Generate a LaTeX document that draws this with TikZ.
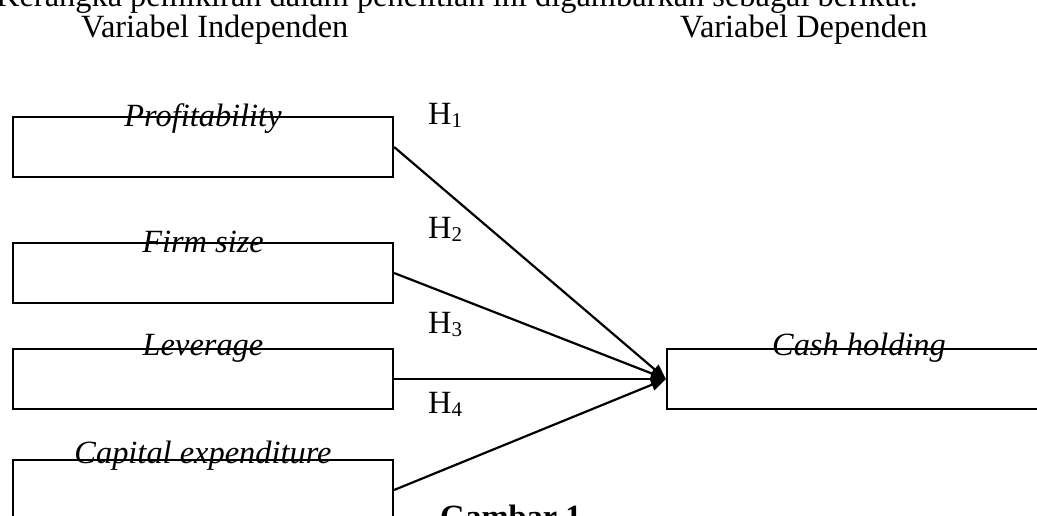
\documentclass[tikz,border=0pt]{standalone}
\usepackage{fontspec}
\setmainfont{Liberation Serif}
\usetikzlibrary{arrows.meta}
\newcommand{\hsub}[1]{H\raisebox{-3pt}{\fontsize{21}{21}\selectfont #1}}
\begin{document}
\begin{tikzpicture}[x=1pt,y=-1pt,
  every node/.style={font=\fontsize{32.4}{39}\selectfont, inner sep=0pt},
  varbox/.style={draw, line width=2.2pt, minimum width=380pt, minimum height=60pt},
  lbl/.style={anchor=base, font=\fontsize{32.4}{39}\selectfont\itshape},
  txt/.style={anchor=base west},
  conn/.style={line width=2.2pt, -{Triangle[length=15pt,width=12pt]}}]
\useasboundingbox (0,0) rectangle (1037,516);
\clip (0,0) rectangle (1037,516);
% header texts
\node[txt] (intro) at (-4,7) {Kerangka pemikiran dalam penelitian ini digambarkan sebagai berikut.};
\node[txt] (vi) at (81,38) {Variabel Independen};
\node[txt] (vd) at (680,38) {Variabel Dependen};
% boxes
\node[varbox] (prof) at (203,147) {};
\node[varbox] (firm) at (203,273) {};
\node[varbox] (lev) at (203,379) {};
\node[varbox] (cap) at (203,490) {};
\node[varbox, minimum width=384pt] (cash) at (859,379) {};
% labels on box tops
\node[lbl] (tprof) at (203,127) {Profitability};
\node[lbl] (tfirm) at (203,252) {Firm size};
\node[lbl] (tlev) at (203,355) {Leverage};
\node[lbl] (tcap) at (203,463) {Capital expenditure};
\node[lbl] (tcash) at (859,355) {Cash holding};
% hypotheses
\node[txt] (h1) at (428,125) {\hsub{1}};
\node[txt] (h2) at (428,238) {\hsub{2}};
\node[txt] (h3) at (428,333) {\hsub{3}};
\node[txt] (h4) at (428,413) {\hsub{4}};
% connectors
\draw[conn] (prof.east) -- (cash.west);
\draw[conn] (firm.east) -- (cash.west);
\draw[conn] (lev.east) -- (cash.west);
\draw[conn] (cap.east) -- (cash.west);
% caption
\node[txt, font=\fontsize{32.4}{39}\selectfont\bfseries] (cap1) at (440,527) {Gambar 1};
\end{tikzpicture}
\end{document}
